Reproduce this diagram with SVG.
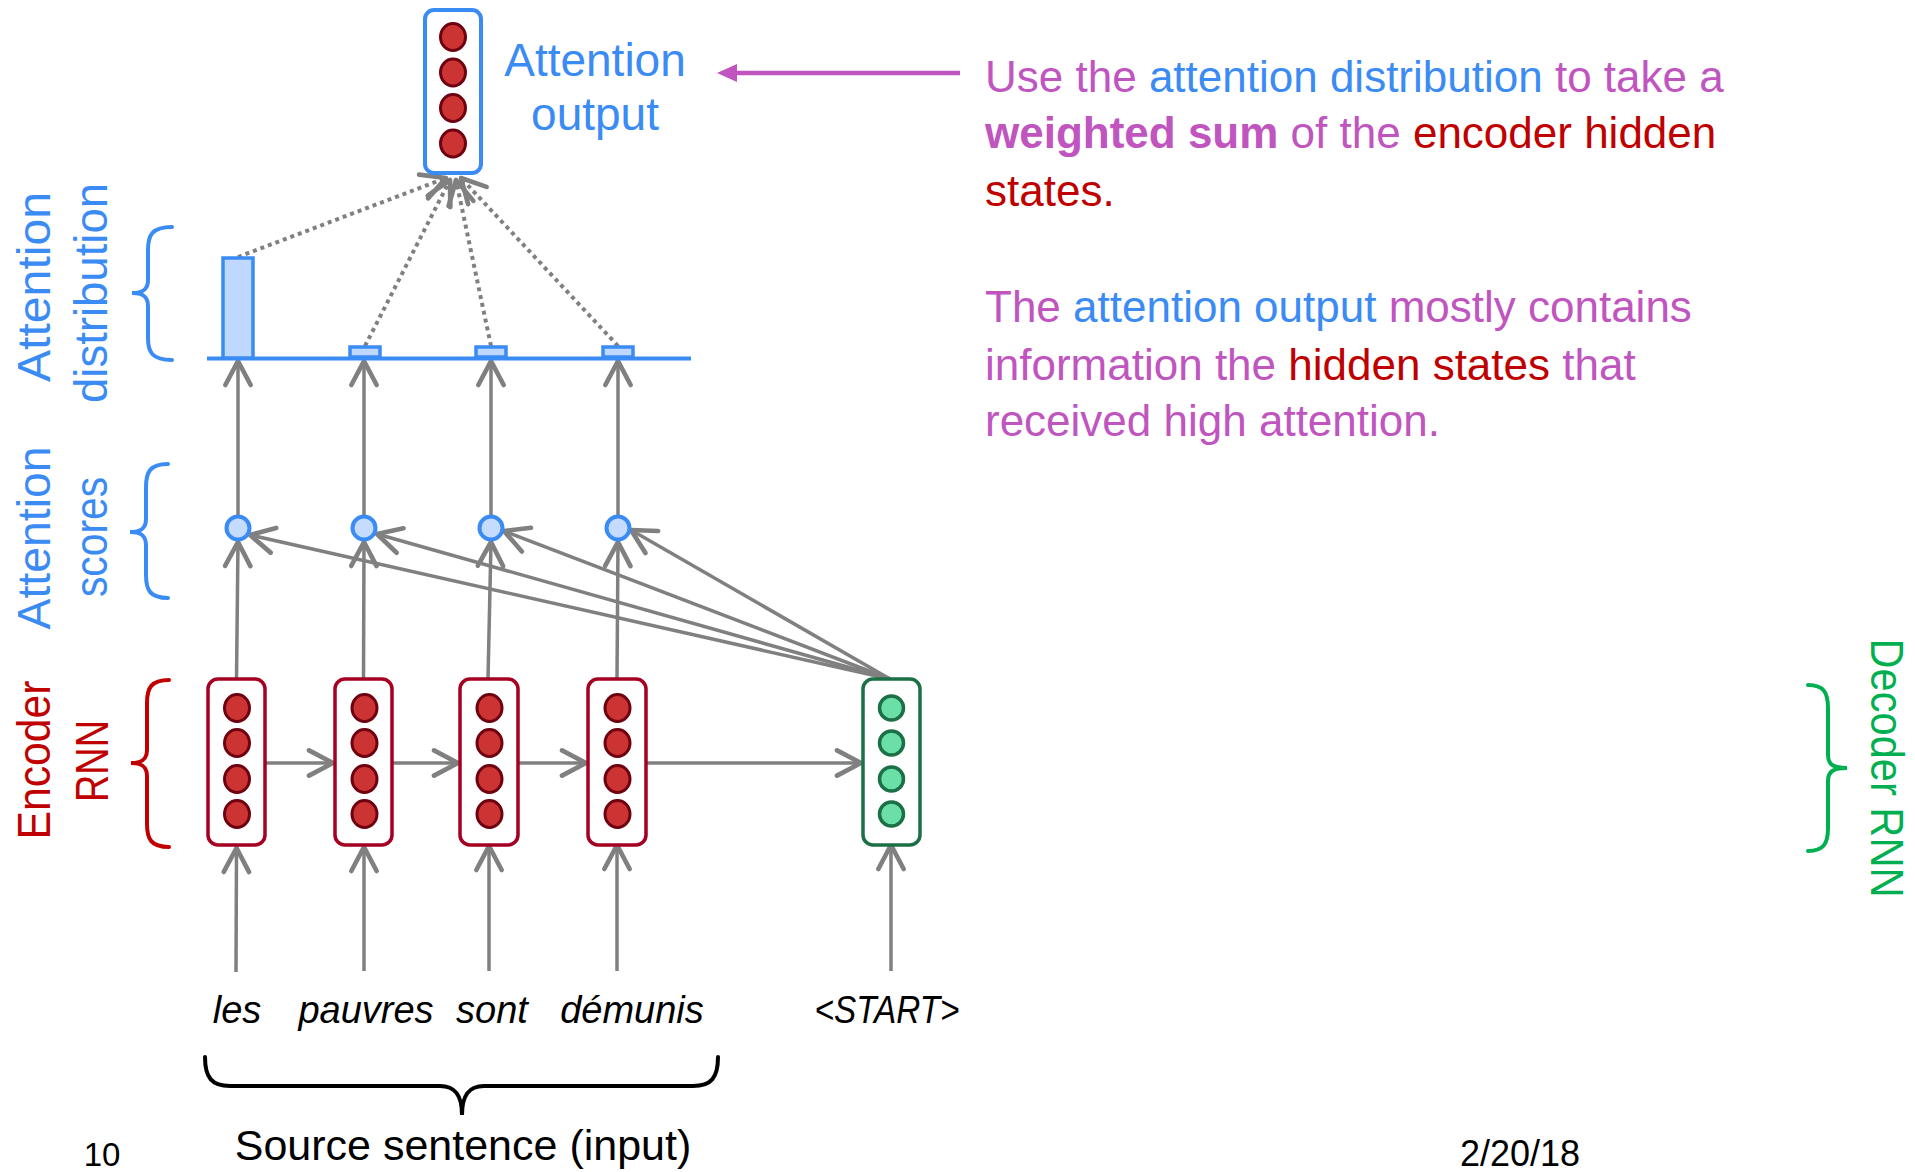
<svg xmlns="http://www.w3.org/2000/svg" width="1915" height="1172" viewBox="0 0 1915 1172">
<style>
text{font-family:"Liberation Sans",Arial,sans-serif;}
.blue{fill:#3b8bf5}
.red{fill:#c00000}
.pur{fill:#c055c0}
.grn{fill:#00b050}
.blk{fill:#000}
.conn{stroke:#808080;stroke-width:3.5;fill:none;marker-end:url(#ah)}
.dot{stroke:#808080;stroke-width:4;fill:none;stroke-dasharray:4 4;marker-end:url(#ah)}
.encbox{fill:#fff;stroke:#a50021;stroke-width:3.5}
.rc{fill:#cc3333;stroke:#6e0010;stroke-width:3}
.decbox{fill:#fff;stroke:#1b7045;stroke-width:3.5}
.gc{fill:#6ae0a8;stroke:#1b7045;stroke-width:3.5}
.sc{fill:#c5dcff;stroke:#3b8bf5;stroke-width:4}
.bar{fill:#bfd8ff;stroke:#3b8bf5;stroke-width:3.5}
.brace{fill:none;stroke-width:4;stroke-linecap:round}
.word{font-style:italic;font-size:38px;text-anchor:middle;fill:#000}
.side{font-size:46px;text-anchor:middle}
.para{font-size:44px}
</style>
<defs>
<marker id="ah" markerUnits="userSpaceOnUse" markerWidth="40" markerHeight="40" viewBox="-25 -15 30 30" refX="0" refY="0" orient="auto" overflow="visible">
<path d="M-18,-9.5 L0,0 L-18,9.5" fill="none" stroke="#808080" stroke-width="3.5" stroke-dasharray="none" stroke-linecap="round" stroke-linejoin="round"/>
</marker>
</defs>

<g id="connectors">
<path class="conn" d="M236,972 L236.5,848"/>
<path class="conn" d="M364,971 L364,847"/>
<path class="conn" d="M489,971 L489,846"/>
<path class="conn" d="M617,971 L617,845"/>
<path class="conn" d="M891,971 L891,845"/>
<path class="conn" d="M265,763 L333,763"/>
<path class="conn" d="M392,763 L458,763"/>
<path class="conn" d="M518,763 L586,763"/>
<path class="conn" d="M646,763 L861,763"/>
<path class="conn" d="M236.5,679 L238,542"/>
<path class="conn" d="M363.5,679 L364,542"/>
<path class="conn" d="M488,679 L491,542"/>
<path class="conn" d="M617,679 L618,542"/>
<path class="conn" d="M238,515 L238,361"/>
<path class="conn" d="M364,515 L364,361"/>
<path class="conn" d="M491,515 L491,361"/>
<path class="conn" d="M618,515 L618,361"/>
<path class="conn" d="M890,679 L250,535"/>
<path class="conn" d="M890,679 L377,534"/>
<path class="conn" d="M890,679 L504,531"/>
<path class="conn" d="M890,679 L631,530"/>
<path class="dot" d="M238,257 L446,178"/>
<path class="dot" d="M365,346 L450,180"/>
<path class="dot" d="M491,346 L456,180"/>
<path class="dot" d="M618,346 L461,178"/>
<path d="M960,73 L732,73" stroke="#c055c0" stroke-width="4.5" fill="none"/>
<polygon points="717,73 737,64 737,82" fill="#c055c0"/>
</g>

<g id="attention-output">
<rect x="425" y="10" width="56" height="163" rx="9" fill="#fff" stroke="#3b8bf5" stroke-width="4"/>
<ellipse class="rc" cx="453" cy="37" rx="12.5" ry="13.5"/>
<ellipse class="rc" cx="453" cy="72.5" rx="12.5" ry="13.5"/>
<ellipse class="rc" cx="453" cy="108" rx="12.5" ry="13.5"/>
<ellipse class="rc" cx="453" cy="143.5" rx="12.5" ry="13.5"/>
<text class="blue" x="595" y="76" font-size="46" text-anchor="middle">Attention</text>
<text class="blue" x="595" y="130" font-size="46" text-anchor="middle">output</text>
</g>

<g id="attention-distribution">
<path d="M207,358.5 L691,358.5" stroke="#3b8bf5" stroke-width="4"/>
<rect class="bar" x="223" y="258" width="30" height="100"/>
<rect class="bar" x="350" y="347" width="30" height="10"/>
<rect class="bar" x="476" y="347" width="30" height="10"/>
<rect class="bar" x="603" y="347" width="30" height="10"/>
</g>

<g id="attention-scores">
<circle class="sc" cx="238" cy="528" r="11.5"/>
<circle class="sc" cx="364" cy="528" r="11.5"/>
<circle class="sc" cx="491" cy="528" r="11.5"/>
<circle class="sc" cx="618" cy="528" r="11.5"/>
</g>

<g id="encoder-1">
<rect class="encbox" x="208" y="679" width="57" height="166" rx="10"/>
<ellipse class="rc" cx="237" cy="708" rx="12.5" ry="13.5"/>
<ellipse class="rc" cx="237" cy="743" rx="12.5" ry="13.5"/>
<ellipse class="rc" cx="237" cy="779" rx="12.5" ry="13.5"/>
<ellipse class="rc" cx="237" cy="814" rx="12.5" ry="13.5"/>
</g>
<g id="encoder-2">
<rect class="encbox" x="335" y="679" width="57" height="166" rx="10"/>
<ellipse class="rc" cx="364.5" cy="708" rx="12.5" ry="13.5"/>
<ellipse class="rc" cx="364.5" cy="743" rx="12.5" ry="13.5"/>
<ellipse class="rc" cx="364.5" cy="779" rx="12.5" ry="13.5"/>
<ellipse class="rc" cx="364.5" cy="814" rx="12.5" ry="13.5"/>
</g>
<g id="encoder-3">
<rect class="encbox" x="460" y="679" width="58" height="166" rx="10"/>
<ellipse class="rc" cx="489.5" cy="708" rx="12.5" ry="13.5"/>
<ellipse class="rc" cx="489.5" cy="743" rx="12.5" ry="13.5"/>
<ellipse class="rc" cx="489.5" cy="779" rx="12.5" ry="13.5"/>
<ellipse class="rc" cx="489.5" cy="814" rx="12.5" ry="13.5"/>
</g>
<g id="encoder-4">
<rect class="encbox" x="588" y="679" width="58" height="166" rx="10"/>
<ellipse class="rc" cx="617.5" cy="708" rx="12.5" ry="13.5"/>
<ellipse class="rc" cx="617.5" cy="743" rx="12.5" ry="13.5"/>
<ellipse class="rc" cx="617.5" cy="779" rx="12.5" ry="13.5"/>
<ellipse class="rc" cx="617.5" cy="814" rx="12.5" ry="13.5"/>
</g>
<g id="decoder-1">
<rect class="decbox" x="863" y="679" width="57" height="166" rx="10"/>
<circle class="gc" cx="891.5" cy="708" r="12"/>
<circle class="gc" cx="891.5" cy="743" r="12"/>
<circle class="gc" cx="891.5" cy="779" r="12"/>
<circle class="gc" cx="891.5" cy="814" r="12"/>
</g>

<g id="words">
<text class="word" x="237" y="1023">les</text>
<text class="word" x="366" y="1023">pauvres</text>
<text class="word" x="492" y="1023">sont</text>
<text class="word" x="632" y="1023">démunis</text>
<text class="word" x="887" y="1023" textLength="145" lengthAdjust="spacingAndGlyphs">&lt;START&gt;</text>
</g>

<g id="label-distribution">
<path class="brace" stroke="#3b8bf5" d="M172,227 C152,227 148,235 148,250 L148,280 C148,290 142,293 132,293 C142,293 148,296 148,306 L148,338 C148,352 152,360 172,360"/>
<text class="side blue" transform="translate(50,287) rotate(-90)" textLength="190" lengthAdjust="spacingAndGlyphs">Attention</text>
<text class="side blue" transform="translate(107,293) rotate(-90)" textLength="220" lengthAdjust="spacingAndGlyphs">distribution</text>
</g>
<g id="label-scores">
<path class="brace" stroke="#3b8bf5" d="M168,464 C150,464 146,472 146,487 L146,519 C146,529 140,532 130,532 C140,532 146,535 146,545 L146,575 C146,590 150,598 168,598"/>
<text class="side blue" transform="translate(50,538) rotate(-90)" textLength="183" lengthAdjust="spacingAndGlyphs">Attention</text>
<text class="side blue" transform="translate(107,537) rotate(-90)" textLength="120" lengthAdjust="spacingAndGlyphs">scores</text>
</g>
<g id="label-encoder">
<path class="brace" stroke="#c00000" d="M169,680 C151,680 147,688 147,703 L147,750 C147,760 141,763 131,763 C141,763 147,766 147,776 L147,824 C147,839 151,847 169,847"/>
<text class="side red" transform="translate(50,760) rotate(-90)" textLength="159" lengthAdjust="spacingAndGlyphs">Encoder</text>
<text class="side red" transform="translate(108,761) rotate(-90)" textLength="82" lengthAdjust="spacingAndGlyphs">RNN</text>
</g>
<g id="label-decoder">
<path class="brace" stroke="#00b050" d="M1808,685 C1824,685 1828,693 1828,708 L1828,755 C1828,765 1834,768 1847,768 C1834,768 1828,771 1828,781 L1828,828 C1828,843 1824,851 1808,851"/>
<text class="side grn" transform="translate(1871,768) rotate(90)" textLength="259" lengthAdjust="spacingAndGlyphs">Decoder RNN</text>
</g>
<g id="label-source">
<path class="brace" stroke="#000" d="M205,1057 C205,1078 212,1086 230,1086 L440,1086 C455,1086 462,1095 462,1115 C462,1095 469,1086 484,1086 L693,1086 C711,1086 718,1078 718,1057"/>
<text class="blk" x="463" y="1160" font-size="43" text-anchor="middle">Source sentence (input)</text>
</g>

<g id="explanation">
<text class="para" x="985" y="92"><tspan class="pur">Use the </tspan><tspan class="blue">attention distribution</tspan><tspan class="pur"> to take a</tspan></text>
<text class="para" x="985" y="148"><tspan class="pur" font-weight="bold">weighted sum</tspan><tspan class="pur"> of the </tspan><tspan class="red">encoder hidden</tspan></text>
<text class="para" x="985" y="206"><tspan class="red">states.</tspan></text>
<text class="para" x="985" y="322"><tspan class="pur">The </tspan><tspan class="blue">attention output</tspan><tspan class="pur"> mostly contains</tspan></text>
<text class="para" x="985" y="380"><tspan class="pur">information the </tspan><tspan class="red">hidden states</tspan><tspan class="pur"> that</tspan></text>
<text class="para" x="985" y="436"><tspan class="pur">received high attention.</tspan></text>
</g>

<g id="footer">
<text class="blk" x="102" y="1166" font-size="33" text-anchor="middle">10</text>
<text class="blk" x="1520" y="1166" font-size="36" text-anchor="middle">2/20/18</text>
</g>
</svg>
